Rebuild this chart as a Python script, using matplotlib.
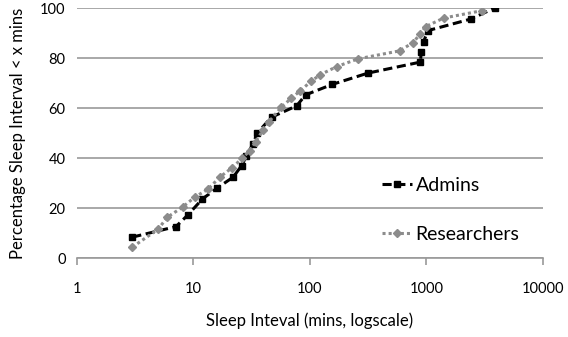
import matplotlib
matplotlib.use('Agg')
import matplotlib.pyplot as plt
from matplotlib.ticker import FixedLocator, FixedFormatter, NullLocator

plt.rcParams['font.family'] = ['Lato', 'DejaVu Sans']

# data
admins_x = [3, 7.1, 9.0, 12.0, 16.0, 22, 26, 28.6, 32.6, 35.3, 47, 77, 92, 156, 315, 887, 904, 946, 1030, 2390, 3840]
admins_y = [8.4, 12.6, 17.3, 23.7, 28, 32.4, 37, 40.9, 45.7, 50, 56.4, 60.9, 65.3, 69.5, 74, 78.4, 82.6, 86.6, 91, 95.6, 100]

res_x = [3, 5.0, 6.0, 8.1, 10.3, 13.4, 16.9, 21.3, 26.4, 30.5, 34.4, 39.7, 44.7, 57, 69.6, 83, 103, 122, 170, 259, 589, 767, 887, 984, 1403, 3013]
res_y = [4.4, 11.6, 16.4, 20.4, 24.4, 27.6, 32.4, 36, 40, 43, 46.6, 51.3, 54.6, 60.4, 64, 67, 70.8, 73.3, 76.6, 79.7, 82.9, 86.2, 89.7, 92.6, 96, 99]

x_ticks = [1, 10, 100, 1000, 10000]
y_ticks = [0, 20, 40, 60, 80, 100]

fig = plt.figure(figsize=(5.68, 3.37), dpi=100)
ax = fig.add_axes([0.135, 0.234, 0.821, 0.742])

ax.plot(admins_x, admins_y, color='black', linestyle=(0, (3, 1.5)), linewidth=2.2,
        marker='s', markersize=5, label='Admins')
ax.plot(res_x, res_y, color='#8c8c8c', linestyle=(0, (1, 1)), linewidth=2.2,
        marker='D', markersize=4.5, label='Researchers')

ax.set_xscale('log')
ax.set_xlim(1, 10000)
ax.set_ylim(0, 100)
ax.xaxis.set_major_locator(FixedLocator(x_ticks))
ax.xaxis.set_major_formatter(FixedFormatter([str(t) for t in x_ticks]))
ax.xaxis.set_minor_locator(NullLocator())
ax.set_yticks(y_ticks)

ax.grid(axis='y', color='#9a9a9a', linewidth=1.2)
ax.set_axisbelow(True)
for s in ['top', 'right']:
    ax.spines[s].set_visible(False)
ax.spines['left'].set_visible(False)
ax.spines['bottom'].set_color('#9a9a9a')
ax.spines['bottom'].set_linewidth(1.2)
ax.tick_params(axis='x', colors='#9a9a9a', labelcolor='black', length=5, width=1.2, labelsize=10.5, pad=12)
ax.tick_params(axis='y', length=0, labelsize=10.5, pad=8)

ax.set_xlabel('Sleep Inteval (mins, logscale)', fontsize=12, labelpad=12)
ax.set_ylabel('Percentage Sleep Interval < x mins', fontsize=12, labelpad=10)

ax.legend(loc='lower left', bbox_to_anchor=(0.654, 0.06), frameon=False, fontsize=14,
          labelspacing=1.65, handlelength=1.55, handletextpad=0.2,
          borderpad=0, borderaxespad=0)

fig.savefig('out.png', dpi=100)
